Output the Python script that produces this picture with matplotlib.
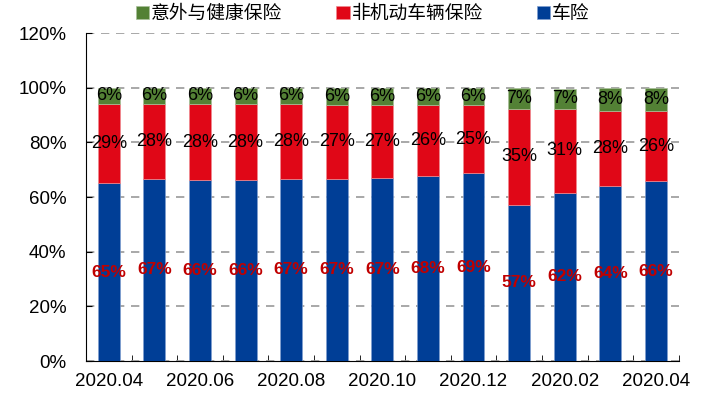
import numpy as np
from matplotlib import pyplot as plt

plt.rcParams['font.family'] = ['Liberation Sans', 'Noto Sans CJK SC']

months = ["2020.04", "2020.05", "2020.06", "2020.07", "2020.08", "2020.09", "2020.10",
          "2020.11", "2020.12", "2020.01", "2020.02", "2020.03", "2020.04"]
# shares in % (labels are the rounded values)
car = [65.0, 66.6, 66.2, 66.2, 66.6, 66.7, 66.9, 67.6, 68.6, 57.2, 61.6, 64.0, 65.8]
non_car = [29.0, 27.6, 27.8, 27.8, 27.6, 26.9, 26.7, 26.0, 25.0, 35.1, 30.6, 27.6, 25.6]
accident = [6.0, 5.8, 6.0, 6.0, 5.8, 6.4, 6.4, 6.4, 6.4, 7.4, 7.4, 8.4, 8.4]

c_blue = "#003E96"
c_red = "#E00717"
c_green = "#538135"

x = np.arange(len(months))
car = np.array(car)
non_car = np.array(non_car)
accident = np.array(accident)

fig = plt.figure(figsize=(7.07, 4.0), dpi=100)
ax = fig.add_axes([0.1216, 0.0975, 0.8384, 0.82])

w = 0.48
b1 = ax.bar(x, car, w, color=c_blue, edgecolor="#7f9fd0", linewidth=0.5, label="车险", zorder=3)
b2 = ax.bar(x, non_car, w, bottom=car, color=c_red, edgecolor="#f08a90", linewidth=0.5,
            label="非机动车辆保险", zorder=3)
b3 = ax.bar(x, accident, w, bottom=car + non_car, color=c_green, edgecolor="#a9c09a",
            linewidth=0.5, label="意外与健康保险", zorder=3)

for i in range(len(x)):
    ax.text(x[i], car[i] / 2, f"{round(car[i])}%", ha="center", va="center",
            color="#C00000", fontsize=12.5, fontweight="bold", zorder=4)
    ax.text(x[i], car[i] + non_car[i] / 2, f"{round(non_car[i])}%", ha="center",
            va="center", color="black", fontsize=13, zorder=4)
    ax.text(x[i], car[i] + non_car[i] + accident[i] / 2, f"{round(accident[i])}%",
            ha="center", va="center", color="black", fontsize=13, zorder=4)

ax.set_xlim(-0.5, len(x) - 0.5)
ax.set_ylim(0, 120)
ax.set_yticks(np.arange(0, 121, 20))
ax.set_yticklabels([f"{v}%" for v in range(0, 121, 20)], fontsize=13.5)
ax.yaxis.grid(True, linestyle=(0, (5, 4)), color="#999999", linewidth=1.2, zorder=0)

ax.set_xticks(x[::2])
ax.set_xticklabels(months[::2], fontsize=13.5)
ax.set_xticks(np.arange(0.5, len(x), 1), minor=True)
ax.tick_params(axis="x", which="major", length=0, pad=9)
ax.tick_params(axis="x", which="minor", length=4, direction="in")
ax.tick_params(axis="y", length=4, direction="in", pad=14)

ax.spines["top"].set_visible(False)
ax.spines["right"].set_visible(False)

fig.legend(handles=[b3, b2, b1], loc="center", bbox_to_anchor=(0.513, 0.965), ncol=3,
           frameon=False, fontsize=13.5, handlelength=0.7, handleheight=0.7,
           handletextpad=0.1, columnspacing=2.9)

plt.savefig("out.png", dpi=100)
